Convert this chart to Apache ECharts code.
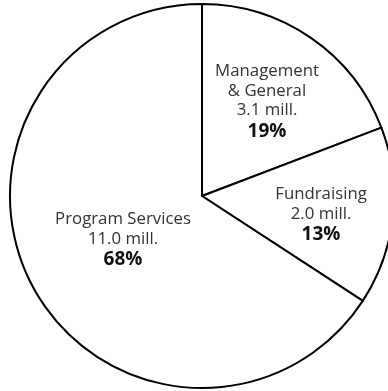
<!DOCTYPE html>
<html>
<head>
<meta charset="utf-8">
<script src="https://cdn.jsdelivr.net/npm/echarts@6/dist/echarts.min.js"></script>
<style>
html,body{margin:0;padding:0;background:#fff;}
#chart{width:388px;height:391px;}
</style>
</head>
<body>
<div id="chart"></div>
<script>
// Data
const categories = ['Management\n& General', 'Fundraising', 'Program Services'];
const amounts = ['3.1', '2.0', '11.0'];       // millions, as labelled
const percents = [19, 13, 68];                 // as labelled
const shares = [19.2, 15.0, 65.8];             // slice sizes as drawn (% of circle)

// label anchor points (layout only)
const labelPos = [[267, 102], [321, 215], [123, 240]];

const chart = echarts.init(document.getElementById('chart'));
chart.setOption({
  animation: false,
  backgroundColor: '#ffffff',
  series: [{
    type: 'pie',
    center: [202, 196],
    radius: 192,
    startAngle: 90,
    clockwise: true,
    silent: true,
    itemStyle: { color: '#ffffff', borderColor: '#000000', borderWidth: 2 },
    emphasis: { disabled: true },
    labelLine: { show: false },
    label: {
      show: true,
      position: 'inside',
      align: 'center',
      verticalAlign: 'middle',
      formatter: function (p) {
        const i = p.dataIndex;
        return '{t|' + categories[i].split('\n').join('}\n{t|') + '}\n{t|' + amounts[i] + ' mill.}\n{p|' + percents[i] + '%}';
      },
      rich: {
        t: { fontFamily: 'Open Sans', fontSize: 16.8, color: '#333333', lineHeight: 19.5, align: 'center' },
        p: { fontFamily: 'Open Sans', fontSize: 19, fontWeight: 'bold', color: '#111111', lineHeight: 22, align: 'center' }
      }
    },
    labelLayout: function (params) {
      const pos = labelPos[params.dataIndex];
      return { x: pos[0], y: pos[1], align: 'center', verticalAlign: 'middle' };
    },
    data: categories.map(function (c, i) { return { name: c, value: shares[i] }; })
  }]
});
</script>
</body>
</html>
